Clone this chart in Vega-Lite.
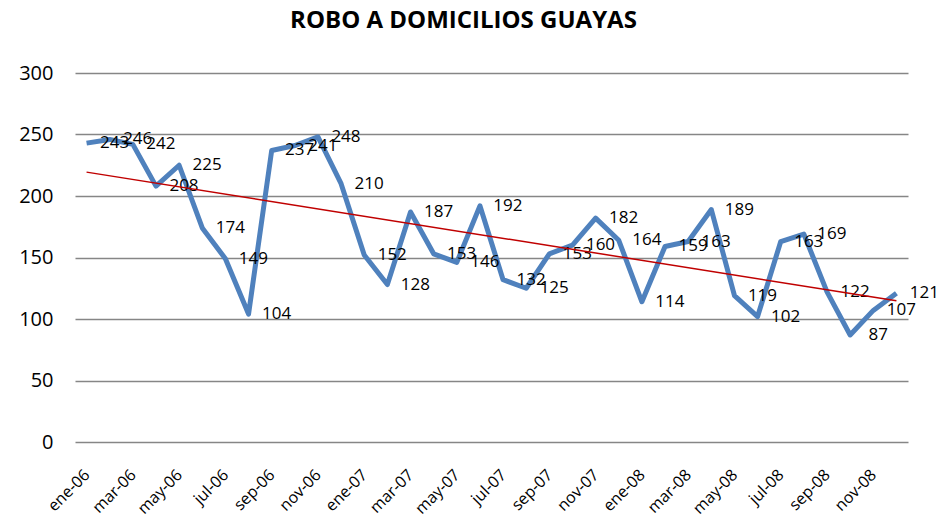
{
  "$schema": "https://vega.github.io/schema/vega-lite/v6.json",
  "autosize": {"type": "none"},
  "width": 833,
  "height": 369,
  "padding": {"left": 75, "top": 73, "right": 30, "bottom": 81},
  "background": "white",
  "title": {"text": "ROBO A DOMICILIOS GUAYAS", "font": "Open Sans", "fontSize": 24, "fontWeight": "bold", "color": "#000000", "offset": 30, "dx": -28},
  "config": {"view": {"stroke": null}},
  "data": {"values": [
    {"i": 1, "mes": "ene-06", "robos": 243}, {"i": 2, "mes": "feb-06", "robos": 246}, {"i": 3, "mes": "mar-06", "robos": 242},
    {"i": 4, "mes": "abr-06", "robos": 208}, {"i": 5, "mes": "may-06", "robos": 225}, {"i": 6, "mes": "jun-06", "robos": 174},
    {"i": 7, "mes": "jul-06", "robos": 149}, {"i": 8, "mes": "ago-06", "robos": 104}, {"i": 9, "mes": "sep-06", "robos": 237},
    {"i": 10, "mes": "oct-06", "robos": 241}, {"i": 11, "mes": "nov-06", "robos": 248}, {"i": 12, "mes": "dic-06", "robos": 210},
    {"i": 13, "mes": "ene-07", "robos": 152}, {"i": 14, "mes": "feb-07", "robos": 128}, {"i": 15, "mes": "mar-07", "robos": 187},
    {"i": 16, "mes": "abr-07", "robos": 153}, {"i": 17, "mes": "may-07", "robos": 146}, {"i": 18, "mes": "jun-07", "robos": 192},
    {"i": 19, "mes": "jul-07", "robos": 132}, {"i": 20, "mes": "ago-07", "robos": 125}, {"i": 21, "mes": "sep-07", "robos": 153},
    {"i": 22, "mes": "oct-07", "robos": 160}, {"i": 23, "mes": "nov-07", "robos": 182}, {"i": 24, "mes": "dic-07", "robos": 164},
    {"i": 25, "mes": "ene-08", "robos": 114}, {"i": 26, "mes": "feb-08", "robos": 159}, {"i": 27, "mes": "mar-08", "robos": 163},
    {"i": 28, "mes": "abr-08", "robos": 189}, {"i": 29, "mes": "may-08", "robos": 119}, {"i": 30, "mes": "jun-08", "robos": 102},
    {"i": 31, "mes": "jul-08", "robos": 163}, {"i": 32, "mes": "ago-08", "robos": 169}, {"i": 33, "mes": "sep-08", "robos": 122},
    {"i": 34, "mes": "oct-08", "robos": 87}, {"i": 35, "mes": "nov-08", "robos": 107}, {"i": 36, "mes": "dic-08", "robos": 121}
  ]},
  "encoding": {
    "x": {"field": "mes", "type": "ordinal", "sort": null,
      "axis": {"title": null, "labelAngle": -45, "labelAlign": "right", "labelBaseline": "middle", "labelFont": "Open Sans", "labelFontSize": 16, "labelColor": "#000000",
        "ticks": false, "domain": false, "labelPadding": 30, "labelOverlap": false, "labelBound": false,
        "values": ["ene-06","mar-06","may-06","jul-06","sep-06","nov-06","ene-07","mar-07","may-07","jul-07","sep-07","nov-07","ene-08","mar-08","may-08","jul-08","sep-08","nov-08"]}},
    "y": {"field": "robos", "type": "quantitative", "scale": {"domain": [0, 300]},
      "axis": {"title": null, "values": [0, 50, 100, 150, 200, 250, 300], "labelFont": "Open Sans", "labelFontSize": 20, "labelColor": "#000000",
        "ticks": false, "domain": false, "labelPadding": 22, "gridColor": "#868686", "gridWidth": 1.5}}
  },
  "layer": [
    {"mark": {"type": "line", "color": "#4F81BD", "strokeWidth": 5, "strokeJoin": "round"}},
    {"mark": {"type": "text", "font": "Open Sans", "fontSize": 17, "color": "#000000", "dx": 28, "align": "center", "baseline": "middle"},
     "encoding": {"text": {"field": "robos", "type": "quantitative"}}},
    {"transform": [{"regression": "robos", "on": "i", "extent": [1, 36]}, {"lookup": "i", "from": {"data": {"values": [
      {"i": 1, "mes": "ene-06"}, {"i": 36, "mes": "dic-08"}]}, "key": "i", "fields": ["mes"]}}],
     "mark": {"type": "line", "color": "#C00000", "strokeWidth": 1.5}}
  ]
}
